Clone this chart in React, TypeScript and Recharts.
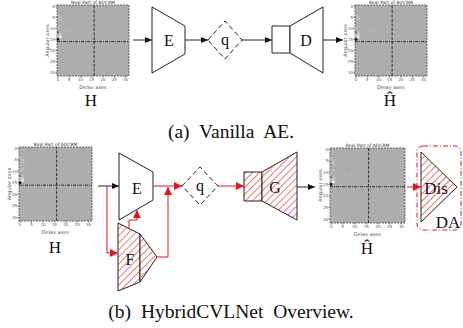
import React from 'react'
import { ScatterChart, Scatter, XAxis, YAxis, ReferenceArea, ReferenceLine } from 'recharts'

// heatmap (ADCRM) content
const heatTicks = [0, 5, 10, 15, 20, 25, 30]
const heatCells = [
  { col: 0, row: 15, v: 20 },
  { col: 1, row: 14, v: 245 },
  { col: 1, row: 13, v: 215 },
  { col: 0, row: 13, v: 200 },
  { col: 0, row: 12, v: 120 },
  { col: 1, row: 12, v: 195 },
  { col: 0, row: 10, v: 190 },
  { col: 1, row: 9, v: 188 },
  { col: 1, row: 6, v: 195 },
  { col: 1, row: 5, v: 190 },
  { col: 0, row: 4, v: 185 },
  { col: 2, row: 7, v: 183 },
  { col: 4, row: 11, v: 182 },
  { col: 6, row: 11, v: 184 },
  { col: 9, row: 11, v: 180 },
]
const heatmaps = [
  { id: 'h-top', left: 57, top: 5, w: 72, h: 71 },
  { id: 'hhat-top', left: 355, top: 5, w: 72, h: 71 },
  { id: 'h-bot', left: 19, top: 147, w: 73, h: 74 },
  { id: 'hhat-bot', left: 330, top: 148, w: 75, h: 75 },
]

// diagram blocks (points in page pixels)
const blocks = [
  { id: 'E-a', kind: 'plain', pts: [[152, 7], [185, 26], [185, 54], [152, 73]] },
  { id: 'q-a', kind: 'dashed', pts: [[208, 40], [225, 21], [242, 40], [225, 59]] },
  { id: 'Drect-a', kind: 'plain', pts: [[272, 26], [290, 26], [290, 53], [272, 53]] },
  { id: 'Dtrap-a', kind: 'plain', pts: [[290, 26], [323, 7], [323, 73], [290, 53]] },
  { id: 'E-b', kind: 'plain', pts: [[119, 153], [153, 172], [153, 200], [119, 220]] },
  { id: 'Fbody-b', kind: 'hatch', pts: [[118, 223], [140, 234], [140, 282], [118, 291]] },
  { id: 'Ftip-b', kind: 'hatch', pts: [[140, 234], [157, 257], [140, 282]] },
  { id: 'q-b', kind: 'dashed', pts: [[182, 186], [200, 167], [218, 186], [200, 205]] },
  { id: 'Grect-b', kind: 'hatch', pts: [[244, 172], [262, 172], [262, 201], [244, 201]] },
  { id: 'Gtrap-b', kind: 'hatch', pts: [[262, 172], [297, 152], [297, 220], [262, 201]] },
  { id: 'Dis-b', kind: 'hatch', pts: [[421, 152], [457, 187], [421, 222]] },
]
const daBox = [[417, 146], [461, 230]]

const arrows = [
  { id: 'a1', color: 'black', pts: [[133, 40], [152, 40]] },
  { id: 'a2', color: 'black', pts: [[185, 40], [208, 40]] },
  { id: 'a3', color: 'black', pts: [[242, 40], [272, 40]] },
  { id: 'a4', color: 'black', pts: [[323, 40], [343, 40]] },
  { id: 'b1', color: 'black', pts: [[98, 186], [119, 186]] },
  { id: 'b2', color: 'red', pts: [[107, 186], [107, 253], [118, 253]] },
  { id: 'b3', color: 'red', pts: [[129, 228], [129, 220], [137, 220], [137, 210]] },
  { id: 'b4', color: 'red', pts: [[153, 186], [182, 186]] },
  { id: 'b5', color: 'red', pts: [[157, 257], [168, 257], [168, 187]] },
  { id: 'b6', color: 'red', pts: [[218, 186], [244, 186]] },
  { id: 'b7', color: 'black', pts: [[297, 187], [315, 187]] },
  { id: 'b8', color: 'red', pts: [[407, 187], [421, 187]] },
]

const labels = [
  { x: 169, y: 40, text: 'E', size: 16 },
  { x: 225, y: 39, text: 'q', size: 16 },
  { x: 306, y: 40, text: 'D', size: 16 },
  { x: 91, y: 100, text: 'H', size: 17 },
  { x: 390, y: 100, text: 'Ĥ', size: 17 },
  { x: 231, y: 131, text: '(a) Vanilla AE.', size: 19.5 },
  { x: 137, y: 188, text: 'E', size: 16 },
  { x: 130, y: 259, text: 'F', size: 16 },
  { x: 200, y: 185, text: 'q', size: 16 },
  { x: 275, y: 187, text: 'G', size: 16 },
  { x: 436, y: 188, text: 'Dis', size: 17 },
  { x: 448, y: 222, text: 'DA', size: 17 },
  { x: 55, y: 247, text: 'H', size: 17 },
  { x: 367, y: 248, text: 'Ĥ', size: 17 },
  { x: 231, y: 311, text: '(b) HybridCVLNet Overview.', size: 19.5 },
]

const RED = '#e8141c'
const blockStyle: Record<string, any> = {
  plain: { fill: 'white', stroke: '#222', strokeWidth: 1 },
  dashed: { fill: 'none', stroke: '#222', strokeWidth: 1, strokeDasharray: '5 3' },
  hatch: { fill: 'url(#hatch)', stroke: '#222', strokeWidth: 1 },
}

const toXY = (pts: number[][]) => pts.map(([x, y]) => ({ x, y }))
const pathOf = (points: { x: number; y: number }[], close: boolean) =>
  points.map((p, i) => `${i ? 'L' : 'M'}${p.x},${p.y}`).join(' ') + (close ? ' Z' : '')
const noDot = () => <g />

function Heat({ left, top, w, h }: { left: number; top: number; w: number; h: number }) {
  const ml = 16
  const mt = 7
  const xh = 13
  const mr = 2
  const cell = w / 32
  const cellH = h / 32
  return (
    <div style={{ position: 'absolute', left: left - ml, top: top - mt }}>
      <ScatterChart width={ml + w + mr} height={mt + h + xh} margin={{ top: mt, right: mr, bottom: 0, left: 0 }}>
        <XAxis
          type="number"
          dataKey="col"
          domain={[-0.5, 31.5]}
          allowDataOverflow
          ticks={heatTicks}
          interval={0}
          height={xh}
          axisLine={false}
          tickSize={1.5}
          tickMargin={0.5}
          tick={{ fontSize: 4, fill: '#555', fontFamily: 'DejaVu Sans' }}
          label={{ value: 'Delay axes', position: 'insideBottom', offset: 0.5, fontSize: 5, fill: '#555', fontFamily: 'DejaVu Sans' }}
        />
        <YAxis
          type="number"
          dataKey="row"
          reversed
          domain={[-0.5, 31.5]}
          allowDataOverflow
          ticks={heatTicks}
          interval={0}
          width={ml}
          axisLine={false}
          tickSize={1.5}
          tickMargin={0.5}
          tick={{ fontSize: 4, fill: '#555', fontFamily: 'DejaVu Sans' }}
          label={{ value: 'Angular axes', angle: -90, position: 'insideLeft', offset: 6, fontSize: 5, fill: '#555', fontFamily: 'DejaVu Sans', style: { textAnchor: 'middle' } }}
        />
        <ReferenceArea
          x1={-0.5}
          x2={31.5}
          y1={-0.5}
          y2={31.5}
          fill="#adadad"
          fillOpacity={1}
          stroke="#5a4646"
          strokeWidth={0.8}
          strokeDasharray="2 1"
          label={{ value: 'Real Part of ADCRM', position: 'top', offset: 1.5, fontSize: 4.5, fill: '#333', fontFamily: 'DejaVu Sans' }}
        />
        <Scatter
          data={heatCells}
          isAnimationActive={false}
          shape={(p: any) => (
            <rect
              x={p.cx - cell / 2}
              y={p.cy - cellH / 2}
              width={cell}
              height={cellH}
              fill={`rgb(${p.payload.v},${p.payload.v},${p.payload.v})`}
            />
          )}
        />
        <ReferenceLine x={16} stroke="#222" strokeWidth={0.9} strokeDasharray="3 1.5" />
        <ReferenceLine y={16} stroke="#222" strokeWidth={0.9} strokeDasharray="3 1 1 1" />
      </ScatterChart>
    </div>
  )
}

export default function App() {
  return (
    <div style={{ position: 'absolute', left: 0, top: 0, width: 463, height: 328, background: 'white', overflow: 'hidden' }}>
      <svg width={0} height={0} style={{ position: 'absolute' }}>
        <defs>
          <marker id="ahBlack" markerWidth="8" markerHeight="8" refX="7" refY="4" orient="auto" markerUnits="userSpaceOnUse">
            <path d="M0,1 L7,4 L0,7 Z" fill="#111" />
          </marker>
          <marker id="ahRed" markerWidth="9" markerHeight="9" refX="8" refY="4.5" orient="auto" markerUnits="userSpaceOnUse">
            <path d="M0,0.5 L8,4.5 L0,8.5 Z" fill={RED} />
          </marker>
          <pattern id="hatch" width="5" height="5" patternUnits="userSpaceOnUse" patternTransform="rotate(45)">
            <rect width="5" height="5" fill="white" />
            <line x1="0.5" y1="0" x2="0.5" y2="5" stroke="#ec7a7a" strokeWidth="1.1" />
          </pattern>
        </defs>
      </svg>
      {heatmaps.map((m) => (
        <Heat key={m.id} left={m.left} top={m.top} w={m.w} h={m.h} />
      ))}
      <div style={{ position: 'absolute', left: 0, top: 0 }}>
        <ScatterChart width={463} height={328} margin={{ top: 0, right: 0, bottom: 0, left: 0 }}>
          <XAxis type="number" dataKey="x" domain={[0, 463]} allowDataOverflow hide />
          <YAxis type="number" dataKey="y" domain={[0, 328]} allowDataOverflow reversed hide />
          {blocks.map((b) => (
            <Scatter
              key={b.id}
              data={toXY(b.pts)}
              isAnimationActive={false}
              shape={noDot}
              line={(p: any) => <path d={pathOf(p.points, true)} {...blockStyle[b.kind]} />}
            />
          ))}
          <Scatter
            data={toXY(daBox)}
            isAnimationActive={false}
            shape={noDot}
            line={(p: any) => (
              <rect
                x={p.points[0].x}
                y={p.points[0].y}
                width={p.points[1].x - p.points[0].x}
                height={p.points[1].y - p.points[0].y}
                rx={6}
                fill="none"
                stroke={RED}
                strokeWidth={1}
                strokeDasharray="5 2 1 2"
              />
            )}
          />
          {arrows.map((a) => (
            <Scatter
              key={a.id}
              data={toXY(a.pts)}
              isAnimationActive={false}
              shape={noDot}
              line={(p: any) => (
                <path
                  d={pathOf(p.points, false)}
                  fill="none"
                  stroke={a.color === 'red' ? RED : '#222'}
                  strokeWidth={1}
                  markerEnd={a.color === 'red' ? 'url(#ahRed)' : 'url(#ahBlack)'}
                />
              )}
            />
          ))}
          <Scatter
            data={labels}
            isAnimationActive={false}
            shape={(p: any) => (
              <text
                x={p.cx}
                y={p.cy}
                textAnchor="middle"
                dominantBaseline="central"
                fontFamily="'Liberation Serif', 'Times New Roman', serif"
                fontSize={p.payload.size}
                wordSpacing={p.payload.size > 18 ? 5 : 0}
                fill="#111"
              >
                {p.payload.text}
              </text>
            )}
          />
        </ScatterChart>
      </div>
    </div>
  )
}
